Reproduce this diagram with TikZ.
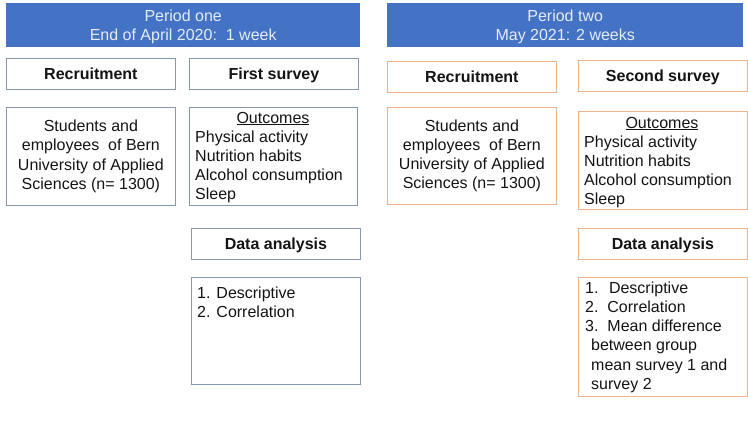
\documentclass[tikz,border=0pt]{standalone}
\usepackage{fontspec}
\setmainfont{Liberation Sans}
\usepackage{xcolor}
\usetikzlibrary{positioning}

\definecolor{headblue}{HTML}{4472C4}
\definecolor{headtext}{HTML}{E4ECF7}
\definecolor{slateline}{HTML}{8497B0}
\definecolor{tanline}{HTML}{EDB18C}

\begin{document}
\begin{tikzpicture}[
  x=1pt, y=-1pt,
  every node/.style={font=\fontsize{16}{19.2}\selectfont, text=black!92},
  header/.style={rectangle, fill=headblue, anchor=north west, minimum width=354pt, minimum height=44pt},
  headtitle/.style={inner sep=0pt, align=center, text=headtext},
  heading/.style={rectangle, draw, line width=0.8pt, fill=white, anchor=north west, minimum width=169pt, minimum height=31pt, font=\fontsize{16}{19.2}\selectfont\bfseries, text height=11.5pt, text depth=0pt},
  infobox/.style={rectangle, draw, line width=0.8pt, fill=white, anchor=north west, minimum width=169pt, align=center},
  lines/.style={inner sep=0pt, anchor=north west, align=left},
]
  \useasboundingbox (0,0) rectangle (748,421);

  % period one
  \node[header, minimum width=354pt] (head1) at (6,3) {};
  \node[headtitle, below=-15.5pt of head1.center] (title1) {Period one\\End of April 2020:\ \ 1 week};
  \node[heading, draw=slateline] (recruit1) at (6,58) {Recruitment};
  \node[heading, draw=slateline] (survey1) at (189,58) {First survey};
  \node[infobox, draw=slateline, minimum height=98pt] (sample1) at (6,107)
    {Students and\\employees\ \ of Bern\\University of Applied\\Sciences (n= 1300)};
  \node[infobox, draw=slateline, minimum width=168pt, minimum height=98pt] (outbox1) at (189,107) {};
  \node[inner sep=0pt, anchor=base] (outtitle1) at (273,123) {\underline{Outcomes}};
  \node[lines] (outlist1) at (195,130.6) {Physical activity\\Nutrition habits\\Alcohol consumption\\Sleep};
  \node[heading, draw=slateline] (analysis1) at (191,228) {Data analysis};
  \node[infobox, draw=slateline, minimum height=107pt] (anbox1) at (191,277) {};
  \node[lines] (anlist1) at (197,286.5) {1. Descriptive\\2. Correlation};

  % period two
  \node[header, minimum width=356pt] (head2) at (387,3) {};
  \node[headtitle, below=-15.5pt of head2.center] (title2) {Period two\\May 2021: 2 weeks};
  \node[heading, draw=tanline] (recruit2) at (387,61) {Recruitment};
  \node[heading, draw=tanline] (survey2) at (578,60) {Second survey};
  \node[infobox, draw=tanline, minimum height=97pt] (sample2) at (387,107)
    {Students and\\employees\ \ of Bern\\University of Applied\\Sciences (n= 1300)};
  \node[infobox, draw=tanline, minimum height=98pt] (outbox2) at (578,111) {};
  \node[inner sep=0pt, anchor=base] (outtitle2) at (662,128) {\underline{Outcomes}};
  \node[lines] (outlist2) at (584,135.6) {Physical activity\\Nutrition habits\\Alcohol consumption\\Sleep};
  \node[heading, draw=tanline] (analysis2) at (578,228) {Data analysis};
  \node[infobox, draw=tanline, minimum height=119pt] (anbox2) at (578,277) {};
  \node[lines] (anlist2) at (585,281.5) {1.\hspace{10.5pt}Descriptive\\2.\ \ Correlation\\3.\ \ Mean difference\\\hspace*{6pt}between group\\\hspace*{6pt}mean survey 1 and\\\hspace*{6pt}survey 2};
\end{tikzpicture}
\end{document}
